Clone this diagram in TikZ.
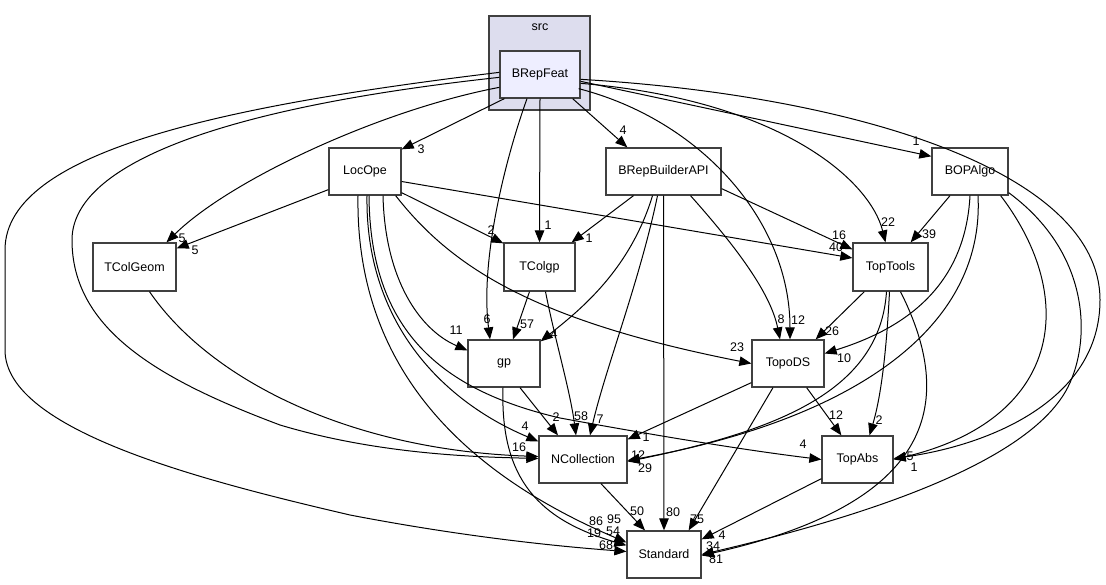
\documentclass[tikz,border=0pt]{standalone}
\usepackage{fontspec}
\setmainfont{Liberation Sans}
\usetikzlibrary{arrows.meta,calc}
\definecolor{boxline}{HTML}{404040}
\definecolor{clusterfill}{HTML}{DDDDEE}
\definecolor{mainfill}{HTML}{EEEEFF}
\begin{document}
\begin{tikzpicture}[x=1pt,y=-1pt,
  box/.style={draw=boxline,line width=1.3pt,fill=white,rectangle,inner sep=0pt,minimum height=47pt,font=\fontsize{12.5}{14}\selectfont},
  e/.style={draw=black,line width=1pt,-{Triangle[length=12pt,width=9.5pt]}},
  lab/.style={inner sep=0pt,font=\fontsize{12.5}{14}\selectfont}]
\useasboundingbox (0,0) rectangle (1106,585);
% cluster
\node[draw=boxline,line width=1.3pt,fill=clusterfill,minimum width=101pt,minimum height=94pt,inner sep=0pt] (cluster) at (539.5,63) {};
\node[lab] (srclab) at (540,27) {src};
% nodes
\node[box,fill=mainfill,minimum width=80pt] (BRepFeat) at (540,74.5) {BRepFeat};
\node[box,minimum width=72pt] (LocOpe) at (365,171.5) {LocOpe};
\node[box,minimum width=115pt] (BRepBuilderAPI) at (663.5,171.5) {BRepBuilderAPI};
\node[box,minimum width=76pt] (BOPAlgo) at (970,171.5) {BOPAlgo};
\node[box,minimum width=83pt,minimum height=48pt] (TColGeom) at (134.5,267) {TColGeom};
\node[box,minimum width=71pt,minimum height=48pt] (TColgp) at (539.5,267) {TColgp};
\node[box,minimum width=75pt,minimum height=48pt] (TopTools) at (890.5,267) {TopTools};
\node[box,minimum width=72pt] (gp) at (504,363.5) {gp};
\node[box,minimum width=72pt] (TopoDS) at (788,363.5) {TopoDS};
\node[box,minimum width=88pt] (NCollection) at (583,459.5) {NCollection};
\node[box,minimum width=71pt] (TopAbs) at (857.5,459.5) {TopAbs};
\node[box,minimum width=74pt] (Standard) at (664,554.5) {Standard};

% BRepFeat edges
\draw[e] ($(BRepFeat.south west)+(5,0)$) -- ($(LocOpe.north east)+(0,2)$);
\draw[e] ($(BRepFeat.south east)+(-8,0)$) -- ($(BRepBuilderAPI.north west)+(22,0)$);
\draw[e] ($(BRepFeat.north east)+(0,31)$) -- ($(BOPAlgo.north west)+(0,9)$);
\draw[e] ($(BRepFeat.north east)+(0,33)$) .. controls (780,100) and (870,180) .. ($(TopTools.north)+(-5,0)$);
\draw[e] ($(BRepFeat.south east)+(-2,-10)$) .. controls (700,120) and (790,220) .. ($(TopoDS.north)+(2,0)$);
\draw[e] ($(BRepFeat.north east)+(0,29)$) .. controls (850,95) and (1100,170) .. (1100,300) .. controls (1100,400) and (990,445) .. ($(TopAbs.east)+(0,-1)$);
\draw[e] ($(BRepFeat.north west)+(0,37)$) .. controls (380,110) and (230,180) .. ($(TColGeom.north)+(32,0)$);
\draw[e] ($(BRepFeat.north west)+(0,27)$) .. controls (200,110) and (72,170) .. (72,240) .. controls (72,330) and (160,380) .. (280,425) .. controls (380,455) and (480,457) .. ($(NCollection.west)+(0,-1)$);
\draw[e] ($(BRepFeat.north west)+(0,22)$) .. controls (230,105) and (5,150) .. (5,250) -- (5,350) .. controls (5,430) and (200,480) .. (350,515) .. controls (480,540) and (580,548) .. ($(Standard.west)+(0,-3)$);
\draw[e] ($(BRepFeat.south)+(-13,0)$) .. controls (505,160) and (480,260) .. ($(gp.north)+(-14,0)$);
\draw[e] (BRepFeat.south) -- (TColgp.north);

% LocOpe edges
\draw[e] ($(LocOpe.south west)+(0,-6)$) -- ($(TColGeom.north east)+(0,6)$);
\draw[e] ($(LocOpe.south east)+(0,-3)$) -- ($(TColgp.north west)+(0,1)$);
\draw[e] ($(LocOpe.east)+(0,10)$) -- ($(TopTools.west)+(0,-9)$);
\draw[e] ($(LocOpe.south east)+(-6,0)$) .. controls (450,265) and (530,320) .. (TopoDS.west);
\draw[e] ($(LocOpe.south)+(18,0)$) .. controls (385,280) and (420,330) .. ($(gp.north west)+(0,11)$);
\draw[e] ($(LocOpe.south)+(2,0)$) .. controls (365,320) and (440,400) .. ($(NCollection.north west)+(0,6)$);
\draw[e] ($(LocOpe.south)+(4,0)$) .. controls (370,330) and (440,390) .. (560,418) .. controls (680,440) and (760,452) .. (TopAbs.west);
\draw[e] ($(LocOpe.south)+(-7,0)$) .. controls (355,380) and (480,480) .. ($(Standard.north west)+(0,12)$);

% gp edges
\draw[e] ($(gp.south)+(16,0)$) -- ($(NCollection.north)+(-25,0)$);
\draw[e] ($(gp.south)+(-1,0)$) .. controls (500,480) and (540,520) .. ($(Standard.north west)+(0,15)$);

% TColgp edges
\draw[e] ($(TColgp.south)+(-10,0)$) -- ($(gp.north)+(9,0)$);
\draw[e] ($(TColgp.south)+(6,0)$) .. controls (555,340) and (570,390) .. ($(NCollection.north)+(-7,0)$);

% BRepBuilderAPI edges
\draw[e] ($(BRepBuilderAPI.south)+(-30,0)$) -- ($(TColgp.north east)+(-4,0)$);
\draw[e] ($(BRepBuilderAPI.south)+(-11,0)$) .. controls (630,270) and (580,310) .. ($(gp.north east)+(0,2)$);
\draw[e] ($(BRepBuilderAPI.south)+(-6,0)$) .. controls (640,280) and (605,370) .. ($(NCollection.north)+(7,0)$);
\draw[e] (BRepBuilderAPI.south) -- (Standard.north);
\draw[e] ($(BRepBuilderAPI.south)+(27,0)$) .. controls (730,240) and (770,290) .. ($(TopoDS.north)+(-8,0)$);
\draw[e] ($(BRepBuilderAPI.south east)+(0,-7)$) -- ($(TopTools.north west)+(0,7)$);

% BOPAlgo edges
\draw[e] ($(BOPAlgo.south)+(-20,0)$) -- ($(TopTools.north east)+(-18,0)$);
\draw[e] (BOPAlgo.south) .. controls (965,290) and (900,330) .. ($(TopoDS.east)+(0,-10)$);
\draw[e] ($(BOPAlgo.south)+(8,0)$) .. controls (985,330) and (850,420) .. ($(NCollection.east)+(0,1)$);
\draw[e] ($(BOPAlgo.south east)+(-8,0)$) .. controls (1080,300) and (1060,420) .. (TopAbs.east);
\draw[e] ($(BOPAlgo.south east)+(0,-3)$) .. controls (1100,260) and (1090,360) .. (1060,400) .. controls (1010,470) and (850,520) .. (Standard.east);

% TopTools edges
\draw[e] ($(TopTools.south west)+(12,0)$) -- ($(TopoDS.north east)+(-9,0)$);
\draw[e] ($(TopTools.south)+(-1,0)$) .. controls (886,360) and (880,400) .. ($(TopAbs.north)+(12,0)$);
\draw[e] ($(TopTools.south)+(-4,0)$) .. controls (880,390) and (780,430) .. ($(NCollection.east)+(0,2)$);
\draw[e] ($(TopTools.south)+(10,0)$) .. controls (950,390) and (950,500) .. ($(Standard.east)+(0,1)$);

% TopoDS edges
\draw[e] ($(TopoDS.south west)+(0,-5)$) -- ($(NCollection.north east)+(0,4)$);
\draw[e] ($(TopoDS.south east)+(-18,0)$) -- ($(TopAbs.north west)+(20,0)$);
\draw[e] ($(TopoDS.south)+(-15,0)$) -- ($(Standard.north east)+(-13,0)$);

% others
\draw[e] ($(NCollection.south)+(18,0)$) -- ($(Standard.north)+(-19,0)$);
\draw[e] ($(TColGeom.south)+(15,0)$) .. controls (210,380) and (350,450) .. ($(NCollection.west)+(0,-3)$);
\draw[e] ($(TopAbs.south west)+(0,-5)$) -- ($(Standard.north east)+(0,9)$);

% labels
\node[lab] (l1) at (421,149) {3};
\node[lab] (l2) at (623,130) {4};
\node[lab] (l3) at (916,141) {1};
\node[lab] (l4) at (888,222) {22};
\node[lab] (l5) at (798,320) {12};
\node[lab] (l6) at (910,456) {5};
\node[lab] (l6b) at (914,467) {1};
\node[lab] (l7) at (182,238) {5};
\node[lab] (l8) at (195,250) {5};
\node[lab] (l9) at (456,330) {11};
\node[lab] (l10) at (487,319) {6};
\node[lab] (l11) at (527,324) {57};
\node[lab] (l12) at (554,334) {4};
\node[lab] (l13) at (491,230) {2};
\node[lab] (l14) at (548,225) {1};
\node[lab] (l15) at (589,238) {1};
\node[lab] (l16) at (839,235) {16};
\node[lab] (l17) at (836,247) {40};
\node[lab] (l18) at (929,234) {39};
\node[lab] (l19) at (737,347) {23};
\node[lab] (l20) at (781,319) {8};
\node[lab] (l21) at (832,331) {26};
\node[lab] (l22) at (844,358) {10};
\node[lab] (l23) at (525,426) {4};
\node[lab] (l24) at (519,447) {16};
\node[lab] (l25) at (556,417) {2};
\node[lab] (l26) at (581,416) {58};
\node[lab] (l27) at (600,419) {7};
\node[lab] (l28) at (646,437) {1};
\node[lab] (l29) at (638,455) {12};
\node[lab] (l30) at (645,468) {29};
\node[lab] (l31) at (803,444) {4};
\node[lab] (l32) at (836,415) {12};
\node[lab] (l33) at (879,420) {2};
\node[lab] (l34) at (637,511) {50};
\node[lab] (l35) at (673,512) {80};
\node[lab] (l36) at (697,519) {75};
\node[lab] (l37) at (722,535) {4};
\node[lab] (l38) at (713,546) {34};
\node[lab] (l39) at (716,559) {81};
\node[lab] (l40) at (614,519) {95};
\node[lab] (l41) at (596,521) {86};
\node[lab] (l42) at (594,533) {19};
\node[lab] (l43) at (613,531) {54};
\node[lab] (l44) at (606,545) {68};
\end{tikzpicture}
\end{document}
